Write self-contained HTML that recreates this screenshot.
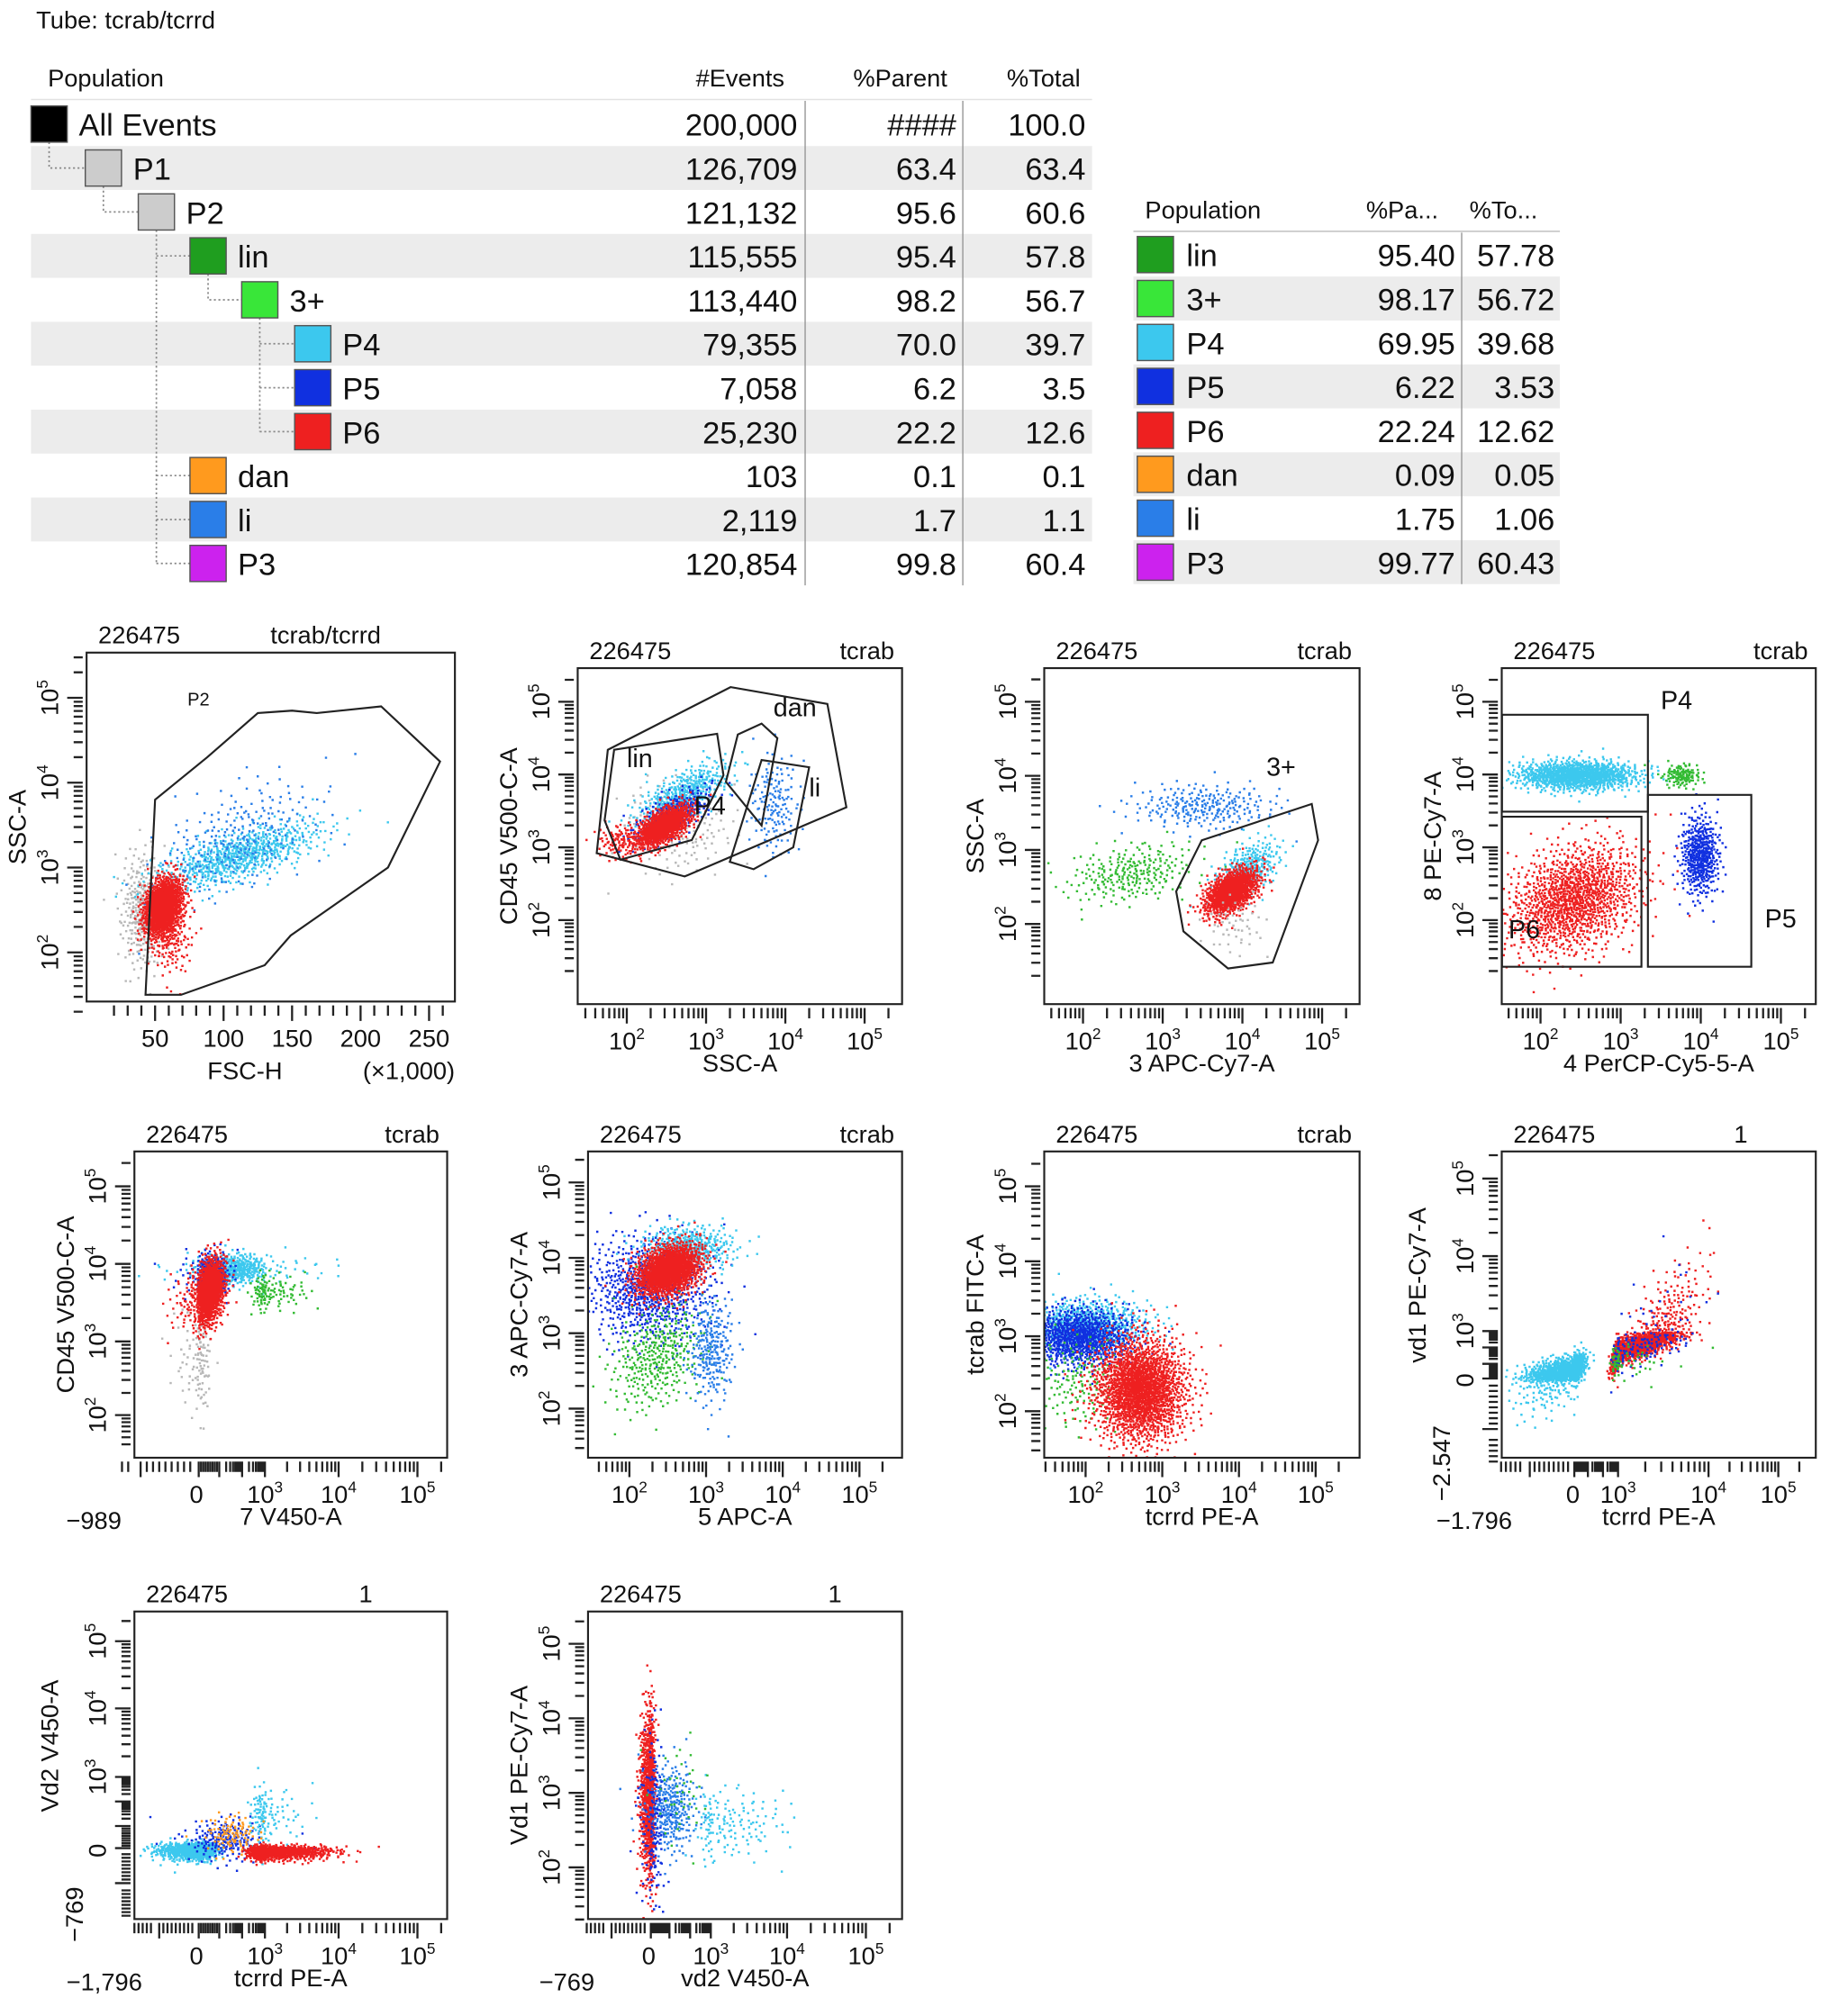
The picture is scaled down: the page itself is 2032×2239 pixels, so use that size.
<!DOCTYPE html>
<html><head><meta charset="utf-8"><style>
html,body{margin:0;padding:0;background:#fff}
svg{display:block}
text{font-family:"Liberation Sans",sans-serif;fill:#111}
</style></head><body>
<svg id="root" xmlns="http://www.w3.org/2000/svg" width="2032" height="2239" viewBox="0 0 1416 1560" preserveAspectRatio="none">
<text x="28" y="22" font-size="19">Tube: tcrab/tcrrd</text>
<g id="tbl"></g>
<g id="tbl2"></g>
<g id="plots"></g>
</svg>
<script>
const NS="http://www.w3.org/2000/svg";
function mk(tag,attrs,parent){const e=document.createElementNS(NS,tag);for(const k in attrs)e.setAttribute(k,attrs[k]);if(parent)parent.appendChild(e);return e;}
const COL={all:"#000",p1:"#cccccc",p2:"#cccccc",lin:"#1f9e1f",p3p:"#39e639",p4:"#3cc8ee",p5:"#1030e0",p6:"#ee2020",dan:"#ff9a1e",li:"#2a7ee8",p3:"#cc22ee",gray:"#b8b8b8",grn:"#33bb33"};

// ---------- hierarchy table data ----------
const popNames=["All Events","P1","P2","lin","3+","P4","P5","P6","dan","li","P3"];
const popKeys=["all","p1","p2","lin","p3p","p4","p5","p6","dan","li","p3"];
const popLevel=[0,1,2,3,4,5,5,5,3,3,3];
const popEvents=["200,000","126,709","121,132","115,555","113,440","79,355","7,058","25,230","103","2,119","120,854"];
const popParent=["####","63.4","95.6","95.4","98.2","70.0","6.2","22.2","0.1","1.7","99.8"];
const popTotal=["100.0","63.4","60.6","57.8","56.7","39.7","3.5","12.6","0.1","1.1","60.4"];

const tbl=document.getElementById("tbl");
const levelX=[24,66,107,147,187,228];
{
 const h=[["Population",37,"start"],["#Events",607,"end"],["%Parent",733,"end"],["%Total",836,"end"]];
 h.forEach(([t,x,a])=>{const e=mk("text",{x:x,y:67,"font-size":19,"text-anchor":a},tbl);e.textContent=t;
 
 });
 mk("line",{x1:24,y1:77,x2:845,y2:77,stroke:"#e2e2e2"},tbl);
 popNames.forEach((n,i)=>{
  const cy=96+34*i;
  if(i%2===1){const r=mk("rect",{x:24,y:cy-17,width:821,height:34,fill:"#ececec"},tbl);
   
   }
 });
 mk("line",{x1:623,y1:78,x2:623,y2:453,stroke:"#999"},tbl);
 mk("line",{x1:745,y1:78,x2:745,y2:453,stroke:"#999"},tbl);
 const dots={stroke:"#888","stroke-dasharray":"1.5,2","stroke-width":1.2,fill:"none"};
 const conn=[[38,110,130,66],[80,144,164,107],[161,212,232,187]];
 conn.forEach(([x,y1,y2,x2])=>{mk("path",Object.assign({d:`M${x},${y1}V${y2}H${x2}`},dots),tbl);});
 mk("path",Object.assign({d:"M121,178V436"},dots),tbl);
 [198,368,402,436].forEach(y=>mk("path",Object.assign({d:`M121,${y}H147`},dots),tbl));
 mk("path",Object.assign({d:"M201,246V334"},dots),tbl);
 [266,300,334].forEach(y=>mk("path",Object.assign({d:`M201,${y}H228`},dots),tbl));
 popNames.forEach((n,i)=>{
  const cy=96+34*i,x=levelX[popLevel[i]];
  const sq=mk("rect",{x:x,y:cy-14,width:28,height:28,fill:COL[popKeys[i]],stroke:"#555","stroke-width":1},tbl);
  
  
  const t=mk("text",{x:x+37,y:cy+9,"font-size":24},tbl);t.textContent=n;
  
  
  [[popEvents[i],617],[popParent[i],740],[popTotal[i],840]].forEach(([v,xr],j)=>{
   const c=mk("text",{x:xr,y:cy+9,"font-size":24,"text-anchor":"end"},tbl);c.textContent=v;
   
   
  });
 });
}
// ---------- summary table ----------
const sumNames=["lin","3+","P4","P5","P6","dan","li","P3"];
const sumKeys=["lin","p3p","p4","p5","p6","dan","li","p3"];
const sumParent=["95.40","98.17","69.95","6.22","22.24","0.09","1.75","99.77"];
const sumTotal=["57.78","56.72","39.68","3.53","12.62","0.05","1.06","60.43"];
const tbl2=document.getElementById("tbl2");
{
 [["Population",886],["%Pa...",1057],["%To...",1137]].forEach(([t,x])=>{const e=mk("text",{x:x,y:169,"font-size":19},tbl2);e.textContent=t;
  
  });
 mk("line",{x1:877,y1:179,x2:1207,y2:179,stroke:"#bbb"},tbl2);
 sumNames.forEach((n,i)=>{const cy=197+34*i;
  if(i%2===1){const r=mk("rect",{x:877,y:cy-17,width:330,height:34,fill:"#ececec"},tbl2);
   
   }});
 mk("line",{x1:1131,y1:180,x2:1131,y2:452,stroke:"#999"},tbl2);
 sumNames.forEach((n,i)=>{const cy=197+34*i;
  const sq=mk("rect",{x:880,y:cy-14,width:28,height:28,fill:COL[sumKeys[i]],stroke:"#555"},tbl2);
  
  
  const t=mk("text",{x:918,y:cy+9,"font-size":24},tbl2);t.textContent=n;
  
  
  const a=mk("text",{x:1126,y:cy+9,"font-size":24,"text-anchor":"end"},tbl2);a.textContent=sumParent[i];
  
  
  const b=mk("text",{x:1203,y:cy+9,"font-size":24,"text-anchor":"end"},tbl2);b.textContent=sumTotal[i];
  
  
 });
}

// ---------- plot data (axis units; log axes in decades) ----------
// clusters: [x, y, sx, sy, n, colorKey, rho]
const clusters1=[[40,2.5,8,0.35,300,"gray",0],[110,3.15,30,0.2,700,"p4",0.7],[110,3.35,30,0.35,250,"li",0.5],[55,2.55,7,0.17,1300,"p6",0.3],[60,2.25,8,0.25,200,"p6",0]];
const clusters2=[[2.6,3.3,0.35,0.3,200,"gray",0],[2.7,3.75,0.3,0.22,400,"p4",0.7],[2.55,3.45,0.25,0.2,300,"p5",0.7],[2.45,3.3,0.18,0.15,900,"p6",0.6],[1.9,3.1,0.15,0.12,100,"p6",0],[3.85,3.6,0.15,0.35,150,"li",0]];
const clusters3=[[3.5,3.6,0.45,0.15,250,"li",0],[2.6,2.7,0.4,0.2,250,"grn",0.3],[4.05,2.75,0.2,0.2,300,"p4",0.5],[3.85,2.45,0.17,0.16,1000,"p6",0.5],[3.9,2.0,0.2,0.2,50,"gray",0]];
const clusters4=[[2.45,4.0,0.38,0.1,1100,"p4",0],[3.75,4.0,0.12,0.08,120,"grn",0],[3.98,2.9,0.12,0.28,450,"p5",0],[2.4,2.3,0.42,0.38,1300,"p6",0.3]];
const clusters5=[[0.1,2.8,0.25,0.4,120,"gray",0],[1.6,3.95,0.9,0.1,450,"p4",0],[3.0,3.65,0.3,0.12,120,"grn",0],[0.6,3.85,0.4,0.15,300,"p5",0],[0.5,3.65,0.35,0.22,1100,"p6",0.3]];
const clusters6=[[2.25,3.6,0.4,0.35,800,"p5",0],[2.75,4.15,0.3,0.15,400,"p4",0],[2.35,2.7,0.3,0.35,350,"grn",0.3],[3.05,2.8,0.15,0.35,250,"li",0],[2.5,3.85,0.22,0.18,1300,"p6",0.3]];
const clusters7=[[2.0,3.15,0.4,0.18,700,"p4",0],[1.9,3.0,0.35,0.2,900,"p5",0],[1.9,2.4,0.3,0.3,150,"grn",0],[2.7,2.3,0.3,0.35,1900,"p6",0]];
const clusters8=[[-0.2,0.6,0.45,0.5,900,"p4",0.5],[3.2,2.2,0.3,0.7,1300,"p6",0.8],[3.25,2.2,0.3,0.8,150,"p5",0.6],[3.0,1.2,0.3,0.5,60,"grn",0]];
const clusters9=[[-0.1,0.05,0.45,0.15,700,"p4",0],[1.2,0.5,0.8,0.4,200,"p5",0],[2.9,1.5,0.3,0.6,120,"p4",0],[1.5,0.7,0.6,0.4,100,"dan",0],[3.1,0.0,0.4,0.12,900,"p6",0]];
const clusters10=[[0.0,3.0,0.12,0.55,1000,"p6",0],[1.0,2.8,0.6,0.3,300,"li",0],[3.2,2.6,0.4,0.25,150,"p4",0],[0.2,2.6,0.25,0.6,150,"p5",0],[1.5,3.0,0.7,0.35,40,"grn",0]];

// gates (axis units)
const gate1=[[43,1.5],[50,3.8],[88,4.3],[125,4.82],[150,4.85],[168,4.82],[215,4.9],[258,4.25],[220,3.0],[149,2.2],[130,1.85],[69,1.5]];
const gates2=[[[1.62,2.92],[1.76,4.34],[3.31,5.2],[4.53,4.97],[4.77,3.55],[2.73,2.6]],
 [[1.72,3.37],[1.84,4.34],[3.14,4.56],[3.22,3.99],[2.82,3.1],[1.92,2.83]],
 [[3.25,3.9],[3.4,4.55],[3.7,4.7],[3.9,4.5],[3.7,3.3]],
 [[3.3,2.8],[3.7,4.2],[4.3,4.1],[4.1,3.0],[3.6,2.7]]];
const gate3=[[3.17,2.44],[3.49,3.13],[4.87,3.62],[4.95,3.13],[4.38,1.48],[3.82,1.4],[3.26,1.9]];
const gates4=[[[1.52,4.82],[3.34,4.82],[3.34,3.49],[1.52,3.49]],[[3.34,3.72],[4.63,3.72],[4.63,1.36],[3.34,1.36]],[[1.52,3.42],[3.26,3.42],[3.26,1.36],[1.52,1.36]]];

const plotCfg=[
 {name:"fsc-ssc",f:[67,505,352,775],xa:[[50,120],[250,332]],ya:[[2,737],[5,540]],xlin:true,yticks:[2,3,4,5],ylo:1.3,yhi:5.5,xlab:"FSC-H",ylab:"SSC-A",tl:"226475",tr:"tcrab/tcrrd",trx:252,cl:clusters1,gates:[gate1],extra:"p2"},
 {name:"cd45-ssc",f:[447,517,698,777],xa:[[2,485],[5,669]],ya:[[2,712],[5,543]],xticks:[2,3,4,5],yticks:[2,3,4,5],xlo:1.4,xhi:5.4,ylo:1.3,yhi:5.4,xlab:"SSC-A",ylab:"CD45 V500-C-A",tl:"226475",tr:"tcrab",cl:clusters2,gates:gates2,gl:[["lin",2.0,4.1],["P4",2.85,3.45],["dan",3.85,4.8],["li",4.3,3.7]]},
 {name:"ssc-cd3",f:[808,517,1052,777],xa:[[2,838],[5,1023]],ya:[[2,715],[5,543]],xticks:[2,3,4,5],yticks:[2,3,4,5],xlo:1.5,xhi:5.4,ylo:1.2,yhi:5.4,xlab:"3 APC-Cy7-A",ylab:"SSC-A",tl:"226475",tr:"tcrab",cl:clusters3,gates:[gate3],gl:[["3+",4.3,4.0]]},
 {name:"cd8-cd4",f:[1162,517,1405,777],xa:[[2,1192],[5,1378]],ya:[[2,712],[5,543]],xticks:[2,3,4,5],yticks:[2,3,4,5],xlo:1.5,xhi:5.4,ylo:1.3,yhi:5.4,xlab:"4 PerCP-Cy5-5-A",ylab:"8 PE-Cy7-A",tl:"226475",tr:"tcrab",cl:clusters4,gates:gates4,gl:[["P4",3.5,4.9],["P5",4.8,1.9],["P6",1.6,1.75]]},
 {name:"cd45-cd7",f:[104,891,346,1128],xa:[[-1,104],[0,152],[3,205],[4,262],[5,323]],ya:[[2,1095],[3,1038],[4,978],[5,918]],xticks:[0,3,4,5],yticks:[2,3,4,5],xlo:-1.2,xhi:5.4,ylo:1.6,yhi:5.4,xlab:"7 V450-A",ylab:"CD45 V500-C-A",tl:"226475",tr:"tcrab",cl:clusters5,gates:[],neg:["\u2212989",null]},
 {name:"cd3-cd5",f:[455,891,698,1128],xa:[[2,487],[5,665]],ya:[[2,1090],[5,915]],xticks:[2,3,4,5],yticks:[2,3,4,5],xlo:1.5,xhi:5.4,ylo:1.4,yhi:5.4,xlab:"5 APC-A",ylab:"3 APC-Cy7-A",tl:"226475",tr:"tcrab",cl:clusters6,gates:[]},
 {name:"tcrab-tcrrd",f:[808,891,1052,1128],xa:[[2,840],[5,1018]],ya:[[2,1092],[5,918]],xticks:[2,3,4,5],yticks:[2,3,4,5],xlo:1.4,xhi:5.4,ylo:1.4,yhi:5.4,xlab:"tcrrd PE-A",ylab:"tcrab FITC-A",tl:"226475",tr:"tcrab",cl:clusters7,gates:[]},
 {name:"vd1-tcrrd",f:[1162,891,1405,1128],xa:[[-1,1180],[0,1217],[3,1252],[4,1322],[5,1376]],ya:[[-1,1110],[0,1068],[3,1030],[4,972],[5,912]],xticks:[0,3,4,5],yticks:[0,3,4,5],xlo:-1.5,xhi:5.4,ylo:-1.5,yhi:5.4,xlab:"tcrrd PE-A",ylab:"vd1 PE-Cy7-A",tl:"226475",tr:"1",trx:1347,cl:clusters8,gates:[],neg:["\u22121.796","\u22122.547"]},
 {name:"vd2-tcrrd",f:[104,1247,346,1485],xa:[[-1,120],[0,152],[3,205],[4,262],[5,323]],ya:[[-1,1460],[0,1432],[3,1375],[4,1322],[5,1270]],xticks:[0,3,4,5],yticks:[0,3,4,5],xlo:-1.5,xhi:5.4,ylo:-1.8,yhi:5.4,xlab:"tcrrd PE-A",ylab:"Vd2 V450-A",tl:"226475",tr:"1",trx:283,cl:clusters9,gates:[],neg:["\u22121,796","\u2212769"]},
 {name:"vd1-vd2",f:[455,1247,698,1485],xa:[[-1,470],[0,502],[3,550],[4,609],[5,670]],ya:[[2,1445],[5,1272]],xticks:[0,3,4,5],yticks:[2,3,4,5],xlo:-1.5,xhi:5.4,ylo:1.3,yhi:5.4,xlab:"vd2 V450-A",ylab:"Vd1 PE-Cy7-A",tl:"226475",tr:"1",trx:646,cl:clusters10,gates:[],neg:["\u2212769",null]}
];

function interp(anch,v){
 if(v<=anch[0][0]){const a=anch[0],b=anch[1];return a[1]+(v-a[0])*(b[1]-a[1])/(b[0]-a[0]);}
 for(let i=0;i<anch.length-1;i++){const a=anch[i],b=anch[i+1];if(v<=b[0])return a[1]+(v-a[0])*(b[1]-a[1])/(b[0]-a[0]);}
 const a=anch[anch.length-2],b=anch[anch.length-1];return a[1]+(v-a[0])*(b[1]-a[1])/(b[0]-a[0]);
}
function halton(i,b){let f=1,r=0;while(i>0){f/=b;r+=f*(i%b);i=Math.floor(i/b);}return r;}
function supLabel(g,x,y,base,exp,rot,name){
 const t=mk("text",{x:x,y:y,"font-size":19,"text-anchor":"middle"},g);
 if(rot)t.setAttribute("transform",`rotate(-90 ${x} ${y})`);
 t.appendChild(document.createTextNode(base));
 const s=mk("tspan",{"font-size":12,dy:-8},t);s.textContent=exp;
 
 
}
const plots=document.getElementById("plots");
plotCfg.forEach((c,pi)=>{
 const g=mk("g",{},plots);
 
 
 const [x0,y0,x1,y1]=c.f;
 const X=v=>interp(c.xa,v),Y=v=>interp(c.ya,v);
 const clipId="clip"+pi;
 const cp=mk("clipPath",{id:clipId},g);mk("rect",{x:x0,y:y0,width:x1-x0,height:y1-y0},cp);
 const dg=mk("g",{"clip-path":`url(#${clipId})`},g);
 
 
 let idx=1+pi*977;
 c.cl.forEach(([cx,cy,sx,sy,n,ck,rho])=>{
  let d="";
  for(let k=0;k<n;k++){idx++;
   const u1=Math.max(1e-4,halton(idx,2)),u2=halton(idx,3);
   const r=Math.sqrt(-2*Math.log(u1));const z1=r*Math.cos(2*Math.PI*u2),z2=r*Math.sin(2*Math.PI*u2);
   const vx=cx+sx*z1,vy=cy+sy*(rho*z1+Math.sqrt(1-rho*rho)*z2);
   const px=X(vx),py=Y(vy);d+=`M${px.toFixed(1)},${py.toFixed(1)}h1.7v1.7h-1.7z`;}
  const p=mk("path",{d:d,fill:COL[ck]},dg);
  
  
 });
 c.gates.forEach((gt,gi)=>{
  const pts=gt.map(([a,b])=>`${X(a).toFixed(1)},${Y(b).toFixed(1)}`).join(" ");
  const pg=mk("polygon",{points:pts,fill:"none",stroke:"#222","stroke-width":1.5},dg);
  
  
 });
 (c.gl||[]).forEach(([t,a,b])=>{const e=mk("text",{x:X(a),y:Y(b),"font-size":20},g);e.textContent=t;
  
  });
 if(c.extra){const e=mk("text",{x:145,y:546,"font-size":14},g);e.textContent="P2";
  
  }
 const fr=mk("rect",{x:x0,y:y0,width:x1-x0,height:y1-y0,fill:"none",stroke:"#222","stroke-width":1.5},g);
 
 
 let tk="";
 if(c.xlin){
  for(let v=20;v<=260;v+=10){const px=X(v);if(px<x0)continue;tk+=`M${px},${y1+3}v${v%50===0?12:8}`;}
 }else{
  for(let d=Math.floor(c.xlo);d<Math.ceil(c.xhi);d++){for(let k=1;k<10;k++){const v=(d>=1||c.xa[0][0]>=2)?d+Math.log10(k):d+k/10;if(v<c.xlo||v>c.xhi)continue;tk+=`M${X(v)},${y1+3}v${k===1?12:8}`;}}
 }
 for(let d=Math.floor(c.ylo);d<Math.ceil(c.yhi);d++){for(let k=1;k<10;k++){const v=(d>=1||c.ya[0][0]>=2)?d+Math.log10(k):d+k/10;if(v<c.ylo||v>c.yhi)continue;tk+=`M${x0-3},${Y(v)}h${k===1?-12:-7}`;}}
 const tp=mk("path",{d:tk,stroke:"#222","stroke-width":1.6,fill:"none"},g);
 
 
 if(c.xlin){[50,100,150,200,250].forEach(v=>{const t=mk("text",{x:X(v),y:y1+35,"font-size":19,"text-anchor":"middle"},g);t.textContent=v;
  
  });
  const t=mk("text",{x:x1,y:y1+60,"font-size":19,"text-anchor":"end"},g);t.textContent="(\u00d71,000)";
  
  
 }else{
  c.xticks.forEach(v=>{if(v===0){const t=mk("text",{x:X(0),y:y1+35,"font-size":19,"text-anchor":"middle"},g);t.textContent="0";
    
    }
   else supLabel(g,X(v),y1+35,"10",String(v),false,'x-tick-label');});
 }
 c.yticks.forEach(v=>{if(v===0){const t=mk("text",{x:x0-22,y:Y(0),"font-size":19,"text-anchor":"middle",transform:`rotate(-90 ${x0-22} ${Y(0)})`},g);t.textContent="0";
   
   }
  else supLabel(g,x0-22,Y(v),"10",String(v),true,'y-tick-label');});
 if(c.neg){
  if(c.neg[0]){const t=mk("text",{x:X(c.xa[0][0])-10,y:y1+55,"font-size":19,"text-anchor":"end"},g);t.textContent=c.neg[0];
   
   }
  if(c.neg[1]){const yy=y1-25,xx=x0-40;const t=mk("text",{x:xx,y:yy,"font-size":19,"text-anchor":"end",transform:`rotate(-90 ${xx} ${yy})`},g);t.textContent=c.neg[1];
   
   }
 }
 const xl=mk("text",{x:(x0+x1)/2+(c.xlin?-20:0),y:y1+(c.xlin?60:52),"font-size":19,"text-anchor":"middle"},g);xl.textContent=c.xlab;
 
 
 const yx=x0-47,yy=(y0+y1)/2-(c.neg&&c.neg[1]?15:0);
 const yl=mk("text",{x:yx-(c.neg&&c.neg[1]?12:0),y:yy,"font-size":19,"text-anchor":"middle",transform:`rotate(-90 ${yx-(c.neg&&c.neg[1]?12:0)} ${yy})`},g);yl.textContent=c.ylab;
 
 
 const tl=mk("text",{x:x0+9,y:y0-7,"font-size":19},g);tl.textContent=c.tl;
 
 
 const tr=mk("text",{x:c.trx||x1-6,y:y0-7,"font-size":19,"text-anchor":c.trx?"middle":"end"},g);tr.textContent=c.tr;
 
 
});
</script>
</body></html>
